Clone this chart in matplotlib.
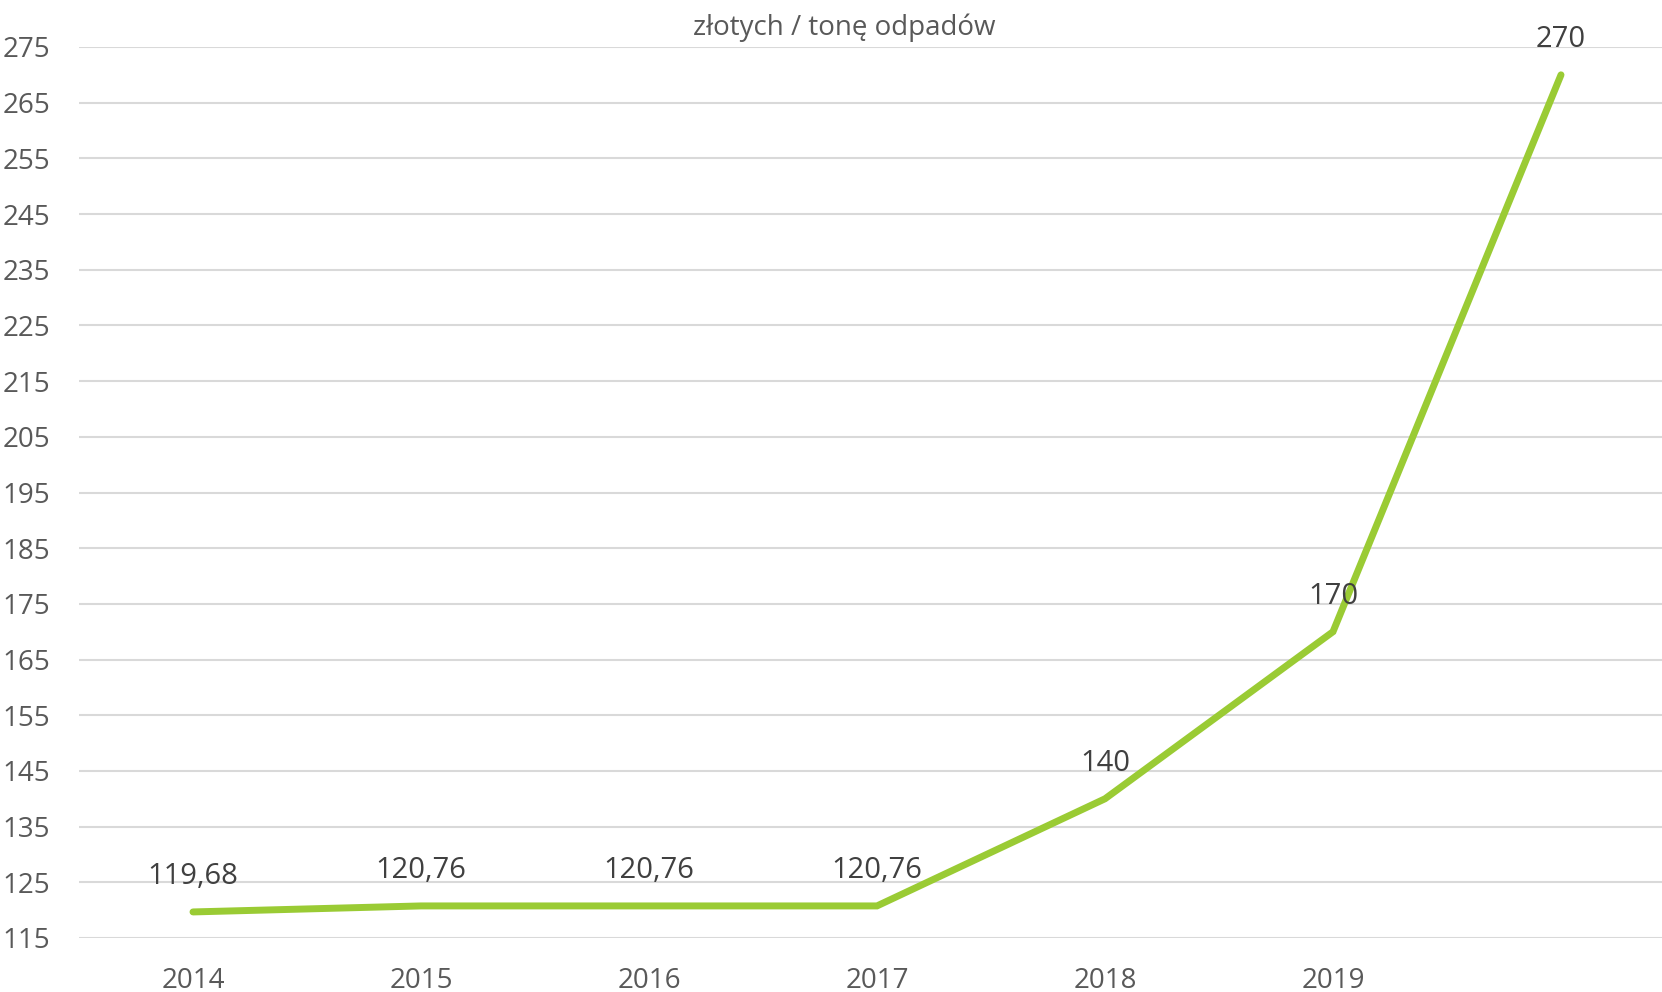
import matplotlib
matplotlib.use('Agg')
import matplotlib.pyplot as plt

# values
years = ['2014', '2015', '2016', '2017', '2018', '2019', '']
prices = [119.68, 120.76, 120.76, 120.76, 140, 170, 270]
value_labels = ['119,68', '120,76', '120,76', '120,76', '140', '170', '270']
y_ticks = list(range(115, 276, 10))
title = 'złotych / tonę odpadów'

plt.rcParams['font.family'] = ['Open Sans', 'DejaVu Sans']

W, H = 1662, 992
fig = plt.figure(figsize=(W / 100, H / 100), dpi=100)
left, right = 79 / W, 1.0
bottom, top = (H - 938) / H, (H - 47) / H
ax = fig.add_axes([left, bottom, right - left, top - bottom])

x = list(range(len(years)))
ax.plot(x, prices, color='#9ACB34', linewidth=5, solid_capstyle='round',
        solid_joinstyle='miter', zorder=3)

for xi, yi, lab in zip(x, prices, value_labels):
    ax.annotate(lab, (xi, yi), xytext=(0, 20), textcoords='offset points',
                ha='center', va='baseline', fontsize=21, color='#404040', zorder=4)

ax.set_xlim(-0.5, (W - 79) / 228 - 0.5)
ax.set_ylim(115, 275)
ax.set_yticks(y_ticks)
ax.set_xticks(x[:-1])
ax.set_xticklabels(years[:-1])

ax.grid(axis='y', color='#D9D9D9', linewidth=1.5)
ax.set_axisbelow(True)
for s in ax.spines.values():
    s.set_visible(False)
ax.tick_params(axis='both', length=0, labelsize=20, labelcolor='#595959')
ax.tick_params(axis='x', pad=21)
# y labels start at the left edge of the figure
ax.tick_params(axis='y', pad=55)
for lab in ax.get_yticklabels():
    lab.set_horizontalalignment('left')

fig.text(844 / W, (H - 35) / H, title, ha='center', va='baseline',
         fontsize=20, color='#595959')

fig.savefig('out.png', dpi=100)
plt.close(fig)
